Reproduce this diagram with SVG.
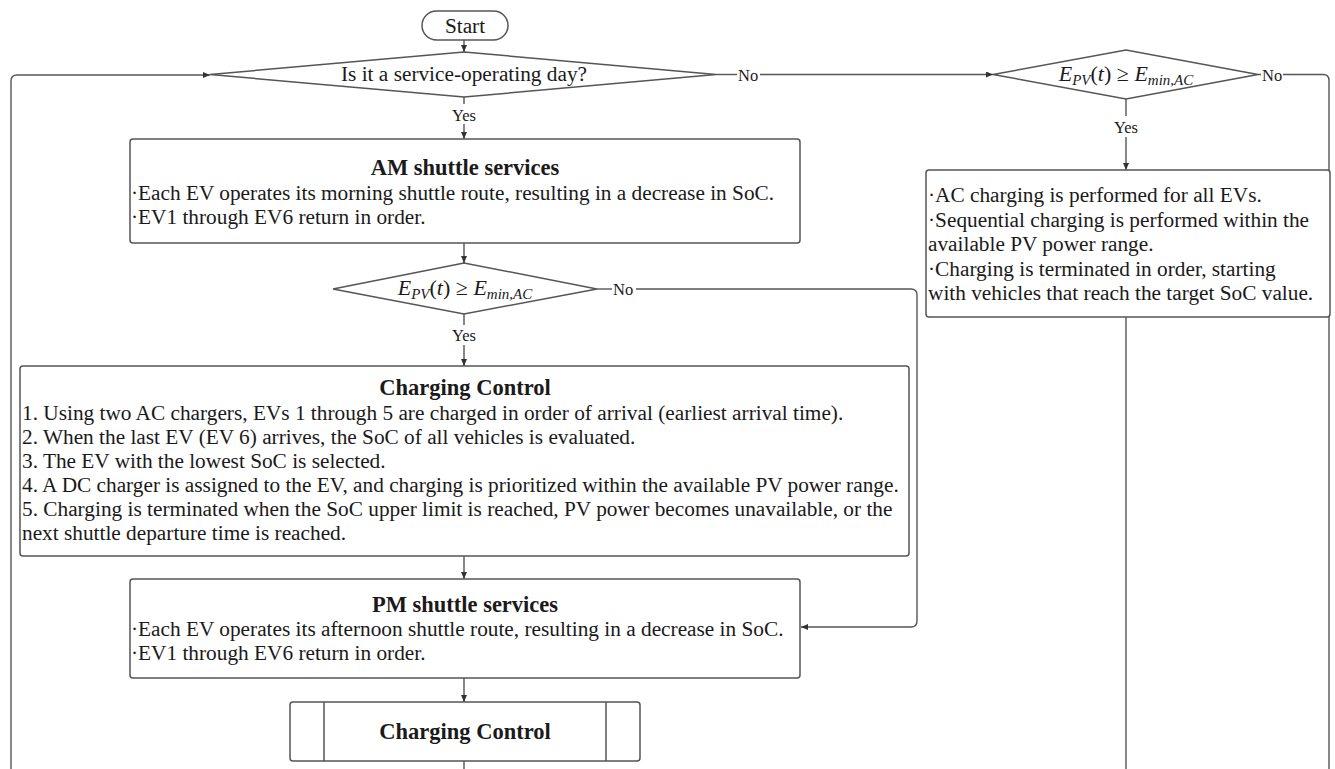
<svg xmlns="http://www.w3.org/2000/svg" width="1335" height="769" viewBox="0 0 1335 769">
<style>
.shape{fill:#fff;stroke:#555;stroke-width:1.5}
.conn{fill:none;stroke:#555;stroke-width:1.4}
.t{font-family:"Liberation Serif","Times New Roman",serif;font-size:21.3px;fill:#1a1a1a}
.b{font-family:"Liberation Serif","Times New Roman",serif;font-size:22.5px;font-weight:bold;fill:#1a1a1a}
.lbl{font-family:"Liberation Serif","Times New Roman",serif;font-size:16.5px;fill:#1a1a1a}
.m{font-family:"Liberation Serif","DejaVu Serif",serif;font-size:22px;fill:#1a1a1a}
.i{font-style:italic}
.s{font-style:italic;font-size:15px}
</style>
<defs>
<marker id="arr" markerUnits="userSpaceOnUse" markerWidth="8" markerHeight="7" refX="7" refY="3" orient="auto">
<path d="M0,0 L7,3 L0,6 z" fill="#333"/>
</marker>
</defs>
<rect width="1335" height="769" fill="#fff"/>

<g id="connectors">
<line class="conn" x1="464" y1="40" x2="464" y2="52" marker-end="url(#arr)"/>
<line class="conn" x1="464" y1="97" x2="464" y2="104"/>
<line class="conn" x1="464" y1="124" x2="464" y2="139" marker-end="url(#arr)"/>
<line class="conn" x1="716" y1="74.5" x2="737" y2="74.5"/>
<line class="conn" x1="760" y1="74.5" x2="993" y2="74.5" marker-end="url(#arr)"/>
<line class="conn" x1="1126" y1="99" x2="1126" y2="116"/>
<line class="conn" x1="1126" y1="137" x2="1126" y2="170" marker-end="url(#arr)"/>
<path class="conn" d="M1258,74.5 H1261 M1283,74.5 H1323 Q1329,74.5 1329,80.5 V769"/>
<line class="conn" x1="1126" y1="317" x2="1126" y2="769"/>
<path class="conn" d="M11,769 V81 Q11,75 17,75 H210" marker-end="url(#arr)"/>
<line class="conn" x1="464" y1="243" x2="464" y2="263" marker-end="url(#arr)"/>
<line class="conn" x1="464" y1="314" x2="464" y2="325"/>
<line class="conn" x1="464" y1="345" x2="464" y2="366" marker-end="url(#arr)"/>
<line class="conn" x1="597" y1="289" x2="612" y2="289"/>
<path class="conn" d="M636,289 H911 Q917,289 917,295 V621 Q917,627 911,627 H801" marker-end="url(#arr)"/>
<line class="conn" x1="464" y1="556" x2="464" y2="579" marker-end="url(#arr)"/>
<line class="conn" x1="464" y1="678" x2="464" y2="702" marker-end="url(#arr)"/>
<line class="conn" x1="464" y1="761" x2="464" y2="769"/>
<text class="lbl" x="464" y="121" text-anchor="middle">Yes</text>
<text class="lbl" x="1126" y="133" text-anchor="middle">Yes</text>
<text class="lbl" x="464" y="341" text-anchor="middle">Yes</text>
<text class="lbl" x="738" y="80.5">No</text>
<text class="lbl" x="1262" y="80.5">No</text>
<text class="lbl" x="613" y="295">No</text>
</g>

<g id="start">
<rect class="shape" x="422" y="11" width="86" height="29" rx="14.5"/>
<text class="t" x="465" y="33" text-anchor="middle">Start</text>
</g>

<g id="decision-day">
<polygon class="shape" points="210,74.5 464,52 716,74.5 464,97"/>
<text class="t" x="464" y="81" text-anchor="middle">Is it a service-operating day?</text>
</g>

<g id="decision-pv-right">
<polygon class="shape" points="993,74.5 1126,50 1258,74.5 1126,99"/>
<text class="m" x="1126" y="81" text-anchor="middle"><tspan class="i">E</tspan><tspan class="s" dy="4">PV</tspan><tspan dy="-4">(</tspan><tspan class="i">t</tspan>) ≥ <tspan class="i">E</tspan><tspan class="s" dy="4">min,AC</tspan></text>
</g>

<g id="ac-charging">
<rect class="shape" x="926" y="170" width="404" height="147" rx="3"/>
<text class="t" x="928" y="202">·AC charging is performed for all EVs.</text>
<text class="t" x="928" y="226.5">·Sequential charging is performed within the</text>
<text class="t" x="928" y="251">available PV power range.</text>
<text class="t" x="928" y="275.5">·Charging is terminated in order, starting</text>
<text class="t" x="928" y="300">with vehicles that reach the target SoC value.</text>
</g>

<g id="am-shuttle">
<rect class="shape" x="130" y="139" width="670" height="104" rx="3"/>
<text class="b" x="465" y="175" text-anchor="middle">AM shuttle services</text>
<text class="t" x="131" y="200">·Each EV operates its morning shuttle route, resulting in a decrease in SoC.</text>
<text class="t" x="131" y="224">·EV1 through EV6 return in order.</text>
</g>

<g id="decision-pv-mid">
<polygon class="shape" points="333,289 464,263 597,289 464,314"/>
<text class="m" x="465" y="295" text-anchor="middle"><tspan class="i">E</tspan><tspan class="s" dy="4">PV</tspan><tspan dy="-4">(</tspan><tspan class="i">t</tspan>) ≥ <tspan class="i">E</tspan><tspan class="s" dy="4">min,AC</tspan></text>
</g>

<g id="charging-control">
<rect class="shape" x="20" y="366" width="889" height="190" rx="3"/>
<text class="b" x="465" y="395" text-anchor="middle">Charging Control</text>
<text class="t" x="22" y="420">1. Using two AC chargers, EVs 1 through 5 are charged in order of arrival (earliest arrival time).</text>
<text class="t" x="22" y="444">2. When the last EV (EV 6) arrives, the SoC of all vehicles is evaluated.</text>
<text class="t" x="22" y="468">3. The EV with the lowest SoC is selected.</text>
<text class="t" x="22" y="492">4. A DC charger is assigned to the EV, and charging is prioritized within the available PV power range.</text>
<text class="t" x="22" y="516">5. Charging is terminated when the SoC upper limit is reached, PV power becomes unavailable, or the</text>
<text class="t" x="22" y="540">next shuttle departure time is reached.</text>
</g>

<g id="pm-shuttle">
<rect class="shape" x="130" y="579" width="670" height="99" rx="3"/>
<text class="b" x="465" y="612" text-anchor="middle">PM shuttle services</text>
<text class="t" x="131" y="636">·Each EV operates its afternoon shuttle route, resulting in a decrease in SoC.</text>
<text class="t" x="131" y="660">·EV1 through EV6 return in order.</text>
</g>

<g id="charging-control-sub">
<rect class="shape" x="290" y="702" width="350" height="59" rx="3"/>
<line class="shape" x1="324" y1="702" x2="324" y2="761"/>
<line class="shape" x1="606" y1="702" x2="606" y2="761"/>
<text class="b" x="465" y="739" text-anchor="middle">Charging Control</text>
</g>
</svg>
